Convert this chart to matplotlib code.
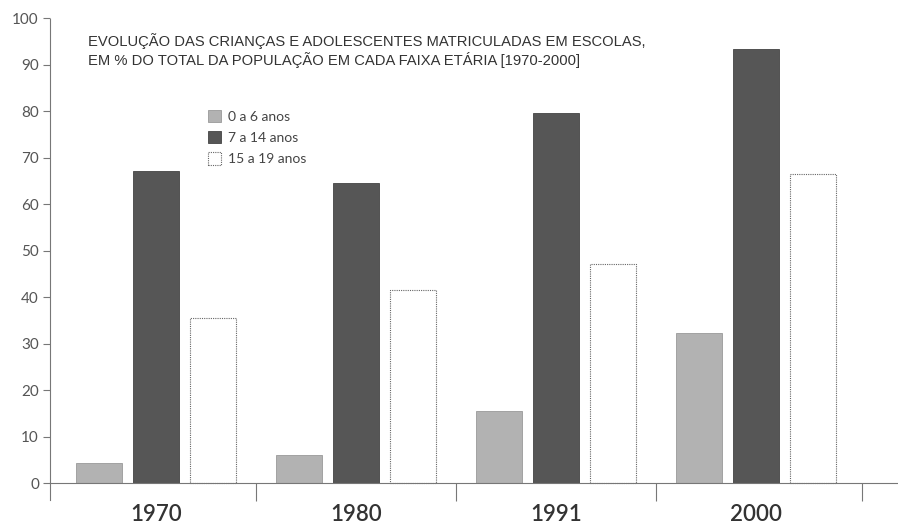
import matplotlib.pyplot as plt
import numpy as np

# data
years = ['1970', '1980', '1991', '2000']
age_groups = ['0 a 6 anos', '7 a 14 anos', '15 a 19 anos']
v_0_6 = [4.3, 6.0, 15.6, 32.2]
v_7_14 = [67.2, 64.5, 79.5, 93.3]
v_15_19 = [35.6, 41.6, 47.1, 66.5]
y_ticks = [0, 10, 20, 30, 40, 50, 60, 70, 80, 90, 100]

title = ("EVOLUÇÃO DAS CRIANÇAS E ADOLESCENTES MATRICULADAS EM ESCOLAS,\n"
         "EM % DO TOTAL DA POPULAÇÃO EM CADA FAIXA ETÁRIA [1970-2000]")

fig = plt.figure(figsize=(8.98, 5.28), dpi=100)
ax = fig.add_axes([50 / 898, 28 / 528, 848 / 898, 482 / 528])

x = np.arange(len(years))
w = 0.23
off = 0.285
grey = '#777777'

ax.bar(x - off, v_0_6, w, color='#b2b2b2', edgecolor='#999999', linewidth=0.6,
       label=age_groups[0])
ax.bar(x, v_7_14, w, color='#565656', edgecolor='#444444', linewidth=0.6,
       label=age_groups[1])
ax.bar(x + off, v_15_19, w, color='white', edgecolor='#666666', linewidth=0.8,
       linestyle=(0, (1, 1)), label=age_groups[2])

ax.set_xlim(-0.53, 3.71)
ax.set_ylim(-3.6, 100)

for s in ['top', 'right']:
    ax.spines[s].set_visible(False)
ax.spines['bottom'].set_position(('data', 0))
ax.spines['bottom'].set_color(grey)
ax.spines['left'].set_color(grey)
ax.spines['left'].set_linestyle((0, (1, 1)))
ax.spines['left'].set_bounds(-3.6, 100)

ax.set_yticks(y_ticks)
ax.set_yticklabels([str(t) for t in y_ticks], fontsize=11, color='#555555',
                   family='Lato')
ax.tick_params(axis='y', length=5, width=0.8, color=grey, pad=3)

ax.set_xticks(x)
ax.set_xticklabels(years, fontsize=16, color='#333333', family='Lato',
                   fontweight='semibold')
ax.tick_params(axis='x', which='major', length=0, pad=15)
ax.set_xticks([0.5, 1.5, 2.5, 3.53], minor=True)
ax.tick_params(axis='x', which='minor', length=13, width=0.8, color=grey,
               direction='out')

fig.text(88 / 898, 1 - 33 / 528, title, fontsize=10.6, color='#333333',
         family='Liberation Sans', va='top', linespacing=1.2)

leg = ax.legend(loc='upper left', bbox_to_anchor=(152 / 848, 1 - 86 / 482),
                frameon=False, handlelength=1.0, handleheight=1.0,
                handletextpad=0.45, labelspacing=0.6, borderaxespad=0,
                prop={'family': 'Lato', 'size': 10})
for t in leg.get_texts():
    t.set_color('#444444')

fig.savefig('out.png', dpi=100)
